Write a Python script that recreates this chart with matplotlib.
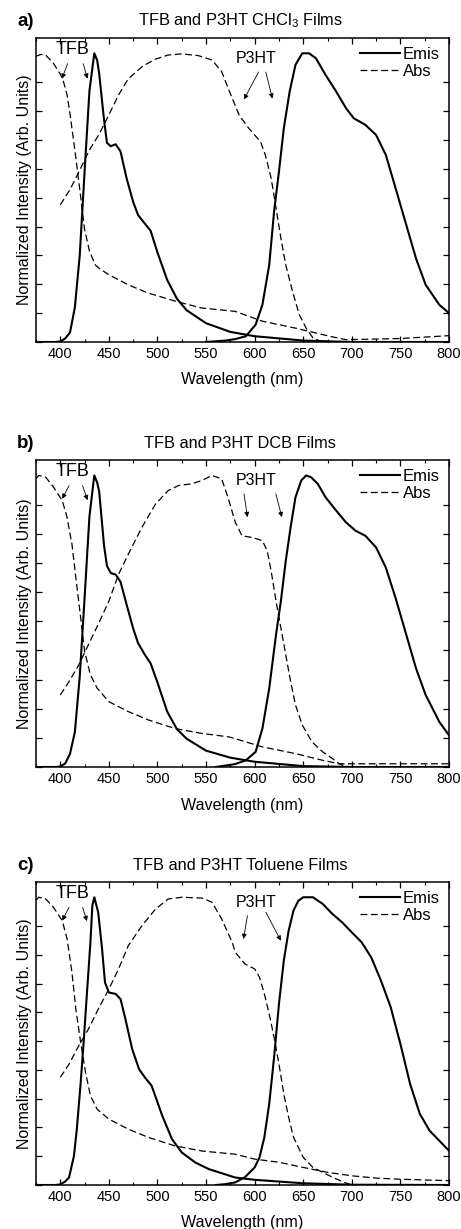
import numpy as np
import matplotlib
matplotlib.use("Agg")
import matplotlib.pyplot as plt
from matplotlib.ticker import MultipleLocator

plt.rcParams['font.family'] = ['Liberation Sans', 'DejaVu Sans']
plt.rcParams['mathtext.fontset'] = 'custom'
plt.rcParams['mathtext.rm'] = 'Liberation Sans'
plt.rcParams['mathtext.default'] = 'regular'

# ---- panel a (CHCl3) ----
a_tfb_emis_wl = [375, 395, 400, 405, 410, 415, 420, 425, 430, 435, 438, 440, 445, 448, 452, 457, 462,
                 468, 475, 480, 487, 493, 500, 510, 520, 530, 550, 575, 600, 650, 700, 800]
a_tfb_emis = [0, 0, 0.002, 0.012, 0.033, 0.12, 0.30, 0.59, 0.87, 1.0, 0.975, 0.93, 0.77, 0.69, 0.678,
              0.685, 0.66, 0.57, 0.485, 0.44, 0.41, 0.385, 0.31, 0.215, 0.15, 0.11, 0.065, 0.035, 0.02,
              0.005, 0.0, 0.0]
a_p3ht_emis_wl = [550, 570, 580, 591, 601, 608, 615, 620, 625, 630, 636, 642, 649, 656, 663, 673, 684,
                  694, 702, 714, 725, 735, 745, 756, 766, 776, 790, 800]
a_p3ht_emis = [0, 0.005, 0.01, 0.02, 0.06, 0.129, 0.267, 0.452, 0.59, 0.74, 0.867, 0.96, 1.0, 1.0,
               0.983, 0.925, 0.867, 0.81, 0.775, 0.752, 0.717, 0.648, 0.533, 0.406, 0.29, 0.198,
               0.129, 0.1]
a_tfb_abs_wl = [375, 380, 385, 393, 400, 403, 407, 410, 413, 416, 420, 425, 430, 436, 440, 450, 470,
                490, 520, 545, 580, 608, 642, 677, 694, 750, 800]
a_tfb_abs = [0.99, 0.996, 0.994, 0.965, 0.928, 0.905, 0.856, 0.79, 0.715, 0.638, 0.53, 0.39, 0.315,
             0.267, 0.255, 0.233, 0.198, 0.17, 0.14, 0.118, 0.106, 0.072, 0.048, 0.02, 0.008, 0.012, 0.022]
a_p3ht_abs_wl = [400, 410, 420, 430, 440, 450, 460, 470, 485, 498, 511, 525, 542, 556, 566, 575, 584,
                 594, 606, 611, 617, 622, 627, 632, 639, 646, 653, 660, 670]
a_p3ht_abs = [0.475, 0.528, 0.595, 0.665, 0.72, 0.787, 0.856, 0.912, 0.956, 0.98, 0.994, 0.998, 0.992,
              0.977, 0.937, 0.86, 0.786, 0.74, 0.694, 0.648, 0.567, 0.464, 0.36, 0.267, 0.175, 0.094,
              0.048, 0.014, 0.0]

# ---- panel b (DCB) ----
b_tfb_emis_wl = [375, 395, 400, 405, 410, 415, 420, 425, 430, 435, 438, 440, 445, 448, 452, 457, 462,
                 468, 475, 480, 487, 493, 500, 510, 520, 530, 550, 575, 600, 650, 700, 800]
b_tfb_emis = [0, 0, 0.002, 0.012, 0.045, 0.12, 0.31, 0.58, 0.86, 1.0, 0.975, 0.945, 0.76, 0.69, 0.665,
              0.66, 0.635, 0.56, 0.475, 0.425, 0.385, 0.355, 0.29, 0.19, 0.13, 0.097, 0.056, 0.032,
              0.018, 0.003, 0.0, 0.0]
b_p3ht_emis_wl = [560, 580, 591, 601, 608, 615, 622, 627, 632, 637, 642, 648, 653, 658, 665, 673, 684,
                  694, 704, 714, 725, 735, 745, 756, 766, 776, 790, 800]
b_p3ht_emis = [0, 0.01, 0.023, 0.052, 0.132, 0.27, 0.454, 0.569, 0.707, 0.822, 0.925, 0.983, 1.0, 0.994,
               0.971, 0.925, 0.879, 0.839, 0.81, 0.793, 0.753, 0.684, 0.58, 0.454, 0.339, 0.247, 0.155,
               0.109]
b_tfb_abs_wl = [375, 378, 385, 393, 402, 407, 412, 416, 421, 425, 431, 438, 450, 470, 491, 518, 546,
                574, 608, 642, 670, 687, 800]
b_tfb_abs = [0.99, 1.0, 0.994, 0.96, 0.914, 0.856, 0.764, 0.65, 0.511, 0.397, 0.316, 0.27, 0.224, 0.19,
             0.161, 0.132, 0.115, 0.103, 0.069, 0.046, 0.023, 0.011, 0.011]
b_p3ht_abs_wl = [400, 409, 419, 429, 439, 450, 460, 470, 484, 498, 511, 522, 535, 546, 556, 566, 573,
                 580, 587, 598, 608, 613, 617, 622, 627, 632, 637, 642, 649, 659, 670, 680, 687, 695]
b_p3ht_abs = [0.247, 0.293, 0.35, 0.42, 0.489, 0.569, 0.661, 0.73, 0.822, 0.902, 0.948, 0.966, 0.971,
              0.983, 1.0, 0.989, 0.92, 0.84, 0.793, 0.787, 0.776, 0.741, 0.672, 0.569, 0.477, 0.385,
              0.293, 0.213, 0.144, 0.086, 0.052, 0.029, 0.011, 0.0]

# ---- panel c (Toluene) ----
c_tfb_emis_wl = [375, 395, 400, 405, 409, 414, 417, 421, 424, 427, 431, 433, 435, 439, 443, 446, 450,
                 457, 462, 467, 474, 481, 487, 494, 505, 515, 525, 539, 553, 580, 600, 650, 700, 800]
c_tfb_emis = [0, 0, 0.002, 0.012, 0.026, 0.1, 0.194, 0.356, 0.495, 0.646, 0.843, 0.971, 1.0, 0.948,
              0.82, 0.704, 0.669, 0.664, 0.646, 0.577, 0.472, 0.403, 0.374, 0.345, 0.24, 0.159, 0.113,
              0.078, 0.055, 0.026, 0.018, 0.006, 0.001, 0.0]
c_p3ht_emis_wl = [560, 570, 580, 590, 600, 605, 610, 615, 620, 625, 630, 635, 640, 645, 650, 660, 670,
                  680, 690, 700, 710, 720, 730, 740, 750, 760, 770, 780, 790, 800]
c_p3ht_emis = [0, 0.003, 0.009, 0.027, 0.061, 0.096, 0.166, 0.282, 0.444, 0.629, 0.78, 0.884, 0.954,
               0.988, 1.0, 1.0, 0.977, 0.942, 0.913, 0.878, 0.844, 0.791, 0.71, 0.618, 0.49, 0.351,
               0.247, 0.189, 0.154, 0.119]
c_tfb_abs_wl = [375, 378, 385, 393, 402, 407, 412, 416, 421, 426, 431, 438, 450, 470, 491, 518, 546,
                580, 600, 625, 650, 675, 700, 725, 750, 800]
c_tfb_abs = [0.99, 1.0, 0.994, 0.965, 0.919, 0.855, 0.739, 0.611, 0.495, 0.391, 0.31, 0.263, 0.229,
             0.194, 0.165, 0.136, 0.118, 0.107, 0.09, 0.079, 0.061, 0.044, 0.032, 0.024, 0.02, 0.015]
c_p3ht_abs_wl = [400, 409, 419, 429, 439, 450, 460, 470, 484, 498, 511, 525, 546, 556, 566, 577, 580,
                 590, 600, 605, 610, 615, 620, 625, 630, 635, 640, 650, 660, 670, 680, 690, 700]
c_p3ht_abs = [0.374, 0.42, 0.484, 0.542, 0.611, 0.681, 0.751, 0.832, 0.901, 0.959, 0.994, 1.0, 0.997,
              0.983, 0.925, 0.843, 0.809, 0.768, 0.751, 0.722, 0.664, 0.594, 0.513, 0.421, 0.316,
              0.235, 0.166, 0.096, 0.061, 0.044, 0.027, 0.012, 0.0]

letters = ['a)', 'b)', 'c)']
titles = ['TFB and P3HT CHCl$_3$ Films', 'TFB and P3HT DCB Films', 'TFB and P3HT Toluene Films']

panels = [
    (a_tfb_emis_wl, a_tfb_emis, a_p3ht_emis_wl, a_p3ht_emis, a_tfb_abs_wl, a_tfb_abs, a_p3ht_abs_wl, a_p3ht_abs),
    (b_tfb_emis_wl, b_tfb_emis, b_p3ht_emis_wl, b_p3ht_emis, b_tfb_abs_wl, b_tfb_abs, b_p3ht_abs_wl, b_p3ht_abs),
    (c_tfb_emis_wl, c_tfb_emis, c_p3ht_emis_wl, c_p3ht_emis, c_tfb_abs_wl, c_tfb_abs, c_p3ht_abs_wl, c_p3ht_abs),
]

# arrow (tail -> head) in data coords, per panel
tfb_arrows = [
    [((407.5, 0.964), (401.7, 0.912)), ((423.6, 0.964), (428, 0.912))],
    [((409, 0.965), (402, 0.92)), ((423, 0.965), (428, 0.915))],
    [((409, 0.965), (402, 0.919)), ((423, 0.965), (427.4, 0.917))],
]
p3ht_arrows = [
    [((604, 0.935), (589, 0.84)), ((611.5, 0.935), (618.3, 0.843))],
    [((589, 0.937), (592.6, 0.857)), ((621.8, 0.937), (628, 0.857))],
    [((592.6, 0.936), (588.5, 0.855)), ((611.5, 0.948), (627, 0.849))],
]

W, H = 461, 1229
fig = plt.figure(figsize=(W / 100, H / 100), dpi=100)

# axes boxes in pixels: (top, bottom)
boxes = [(38, 342), (460, 767), (882, 1185)]
left_px, right_px = 36, 449
label_y = [21, 444, 866]

dash = (0, (5.5, 2.8))

for k in range(3):
    top, bot = boxes[k]
    ax = fig.add_axes([left_px / W, 1 - bot / H, (right_px - left_px) / W, (bot - top) / H])
    te_wl, te, pe_wl, pe, ta_wl, ta, pa_wl, pa = panels[k]
    ax.plot(te_wl, te, color='black', lw=1.5, label='Emis')
    ax.plot(pe_wl, pe, color='black', lw=1.5)
    ax.plot(ta_wl, ta, color='black', lw=0.9, ls=dash, label='Abs')
    ax.plot(pa_wl, pa, color='black', lw=0.9, ls=dash)

    ax.set_xlim(375, 800)
    ax.set_ylim(0, 1.053)
    ax.xaxis.set_major_locator(MultipleLocator(50))
    ax.xaxis.set_minor_locator(MultipleLocator(25))
    ax.set_yticks(np.arange(0, 1.0, 0.1))
    ax.set_yticklabels([])
    ax.tick_params(axis='both', which='major', direction='in', top=True, right=True,
                   length=4.5, width=0.9, labelsize=10.5, pad=3.5)
    ax.tick_params(axis='x', which='minor', direction='in', top=True, length=2.5, width=0.8)
    for s in ax.spines.values():
        s.set_linewidth(1.1)
    ax.set_xlabel('Wavelength (nm)', fontsize=11.6)
    ax.xaxis.set_label_coords(0.5, -0.1)
    ax.xaxis.label.set_va('top')
    ax.set_ylabel('Normalized Intensity (Arb. Units)', fontsize=11.5)
    ax.yaxis.set_label_coords(-0.009, 0.5)

    ax.text(413, 1.012, 'TFB', fontsize=13, ha='center', va='center')
    ax.text(602, 0.983, 'P3HT', fontsize=11.5, ha='center', va='center')
    for tail, head in tfb_arrows[k] + p3ht_arrows[k]:
        ax.annotate('', xy=head, xytext=tail,
                    arrowprops=dict(arrowstyle='-|>', color='black', lw=0.6,
                                    mutation_scale=7, shrinkA=0, shrinkB=0))

    ax.legend(loc='upper right', frameon=False, fontsize=12, handlelength=2.4,
              handletextpad=0.15, labelspacing=0.1, borderaxespad=0.15,
              bbox_to_anchor=(1.0, 1.0))

    fig.text(17 / W, 1 - label_y[k] / H, letters[k], fontsize=13.5, fontweight='bold',
             ha='left', va='center')
    fig.text(240 / W, 1 - label_y[k] / H, titles[k], fontsize=11.8, ha='center', va='center')

fig.savefig('out.png', dpi=100)
